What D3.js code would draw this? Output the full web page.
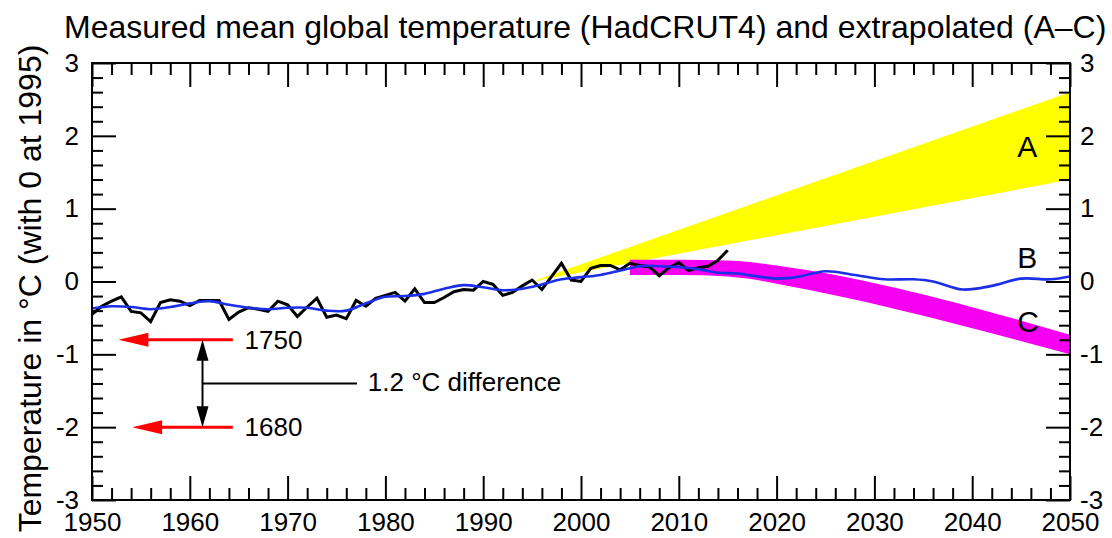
<!DOCTYPE html>
<html>
<head>
<meta charset="utf-8">
<script src="https://cdn.jsdelivr.net/npm/d3@7"></script>
<style>
    body { margin: 0; background: #fff; }
    svg text { font-family: "Liberation Sans", Arial, sans-serif; fill: #000; }
</style>
</head>
<body>
<div id="chart"></div>
<script>
// Measured HadCRUT4 annual values (relative to 1995)
const measuredYears = d3.range(1950, 2016);
const measuredValues = [
    -0.45, -0.34, -0.27, -0.21, -0.41, -0.43, -0.55, -0.29, -0.25, -0.27,
    -0.33, -0.26, -0.26, -0.26, -0.52, -0.42, -0.36, -0.38, -0.41, -0.27,
    -0.32, -0.48, -0.35, -0.23, -0.49, -0.46, -0.51, -0.26, -0.34, -0.23,
    -0.19, -0.15, -0.27, -0.10, -0.29, -0.29, -0.22, -0.14, -0.11, -0.12,
     0.00, -0.04, -0.19, -0.15, -0.06, 0.02, -0.11, 0.07, 0.25, 0.02,
     0.00, 0.18, 0.22, 0.22, 0.16, 0.25, 0.22, 0.20, 0.08, 0.19,
     0.26, 0.15, 0.19, 0.21, 0.29, 0.43
];

// Smoothed / extrapolated curve (B)
const smoothYears = [1950, 1952, 1954, 1956, 1958, 1960, 1962, 1964, 1966, 1968,
    1970, 1972, 1974, 1976, 1978, 1980, 1982, 1984, 1986, 1988,
    1990, 1992, 1994, 1996, 1998, 2000, 2002, 2004, 2006, 2008,
    2010, 2012, 2014, 2016, 2018, 2020, 2022, 2025, 2028, 2031,
    2034, 2036, 2039, 2042, 2045, 2048, 2050];
const smoothValues = [-0.37, -0.34, -0.35, -0.38, -0.35, -0.30, -0.27, -0.32, -0.36, -0.38,
    -0.36, -0.36, -0.40, -0.40, -0.30, -0.21, -0.20, -0.17, -0.10, -0.05,
    -0.08, -0.12, -0.10, -0.04, 0.03, 0.06, 0.09, 0.15, 0.21, 0.21,
    0.20, 0.17, 0.12, 0.11, 0.07, 0.04, 0.06, 0.14, 0.09, 0.03,
    0.03, 0.00, -0.11, -0.06, 0.04, 0.03, 0.07];

// Band A (yellow)
const bandAYears = [1995, 2050];
const bandALow = [0, 1.4];
const bandAHigh = [0, 2.6];

// Band C (magenta)
const bandCYears = [2005, 2010, 2015, 2017, 2020, 2050];
const bandCLow = [0.09, 0.09, 0.07, 0.04, -0.03, -1.0];
const bandCHigh = [0.30, 0.30, 0.29, 0.27, 0.22, -0.73];

// Scenario labels and their levels
const scenNames = ["A", "B", "C"];
const scenLevels = [1.71, 0.19, -0.7];

// Reference levels
const refLabels = ["1750", "1680"];
const refValues = [-0.8, -2.0];

const yearTicks = d3.range(1950, 2051, 10);
const tempTicks = [-3, -2, -1, 0, 1, 2, 3];

const W = 1112, H = 538;
const plot = { left: 92, right: 1070, top: 63, bottom: 500 };

const svg = d3.select("#chart").append("svg")
    .attr("width", W)
    .attr("height", H);

const x = d3.scaleLinear().domain([1950, 2050]).range([plot.left, plot.right]);
const y = d3.scaleLinear().domain([-3, 3]).range([plot.bottom, plot.top]);

// clip for data
svg.append("clipPath").attr("id", "clip")
    .append("rect")
    .attr("x", plot.left).attr("y", plot.top)
    .attr("width", plot.right - plot.left).attr("height", plot.bottom - plot.top);

const data = svg.append("g").attr("clip-path", "url(#clip)");

// Band A
const bandA = bandAYears.map((yr, i) => ({ year: yr, lo: bandALow[i], hi: bandAHigh[i] }));
data.append("path")
    .datum(bandA)
    .attr("fill", "#ffff00")
    .attr("d", d3.area().x(d => x(d.year)).y0(d => y(d.lo)).y1(d => y(d.hi)));

// Band C
const bandC = bandCYears.map((yr, i) => ({ year: yr, lo: bandCLow[i], hi: bandCHigh[i] }));
data.append("path")
    .datum(bandC)
    .attr("fill", "#f500f0")
    .attr("d", d3.area().curve(d3.curveMonotoneX).x(d => x(d.year)).y0(d => y(d.lo)).y1(d => y(d.hi)));

// Measured line
const measured = measuredYears.map((yr, i) => ({ year: yr, v: measuredValues[i] }));
data.append("path")
    .datum(measured)
    .attr("fill", "none")
    .attr("stroke", "#000")
    .attr("stroke-width", 3)
    .attr("stroke-linejoin", "miter")
    .attr("d", d3.line().x(d => x(d.year)).y(d => y(d.v)));

// Smoothed line
const smooth = smoothYears.map((yr, i) => ({ year: yr, v: smoothValues[i] }));
data.append("path")
    .datum(smooth)
    .attr("fill", "none")
    .attr("stroke", "#1a2fe6")
    .attr("stroke-width", 2.6)
    .attr("d", d3.line().curve(d3.curveCatmullRom).x(d => x(d.year)).y(d => y(d.v)));

// Axes: major + minor ticks on all four sides, pointing inward
function styleAxis(g) {
    g.select(".domain").remove();
    g.selectAll("line").attr("stroke", "#000").attr("stroke-width", 2);
    g.selectAll("text").attr("font-size", 26).attr("fill", "#000");
}
const minorYears = d3.range(1952, 2050, 2).filter(d => d % 10 !== 0);
const minorTemps = d3.range(-28, 29, 2).filter(d => d % 10 !== 0).map(d => d / 10);

svg.append("g").attr("transform", `translate(0,${plot.bottom})`)
    .call(d3.axisBottom(x).tickValues(yearTicks).tickFormat(d3.format("d")).tickSize(-24).tickPadding(13))
    .call(styleAxis);
svg.append("g").attr("transform", `translate(0,${plot.bottom})`)
    .call(d3.axisBottom(x).tickValues(minorYears).tickFormat("").tickSize(-12))
    .call(styleAxis);
svg.append("g").attr("transform", `translate(0,${plot.top})`)
    .call(d3.axisTop(x).tickValues(yearTicks).tickFormat("").tickSize(-24))
    .call(styleAxis);
svg.append("g").attr("transform", `translate(0,${plot.top})`)
    .call(d3.axisTop(x).tickValues(minorYears).tickFormat("").tickSize(-12))
    .call(styleAxis);

svg.append("g").attr("transform", `translate(${plot.left},0)`)
    .call(d3.axisLeft(y).tickValues(tempTicks).tickFormat(d3.format("d")).tickSize(-24).tickPadding(13))
    .call(styleAxis);
svg.append("g").attr("transform", `translate(${plot.left},0)`)
    .call(d3.axisLeft(y).tickValues(minorTemps).tickFormat("").tickSize(-11))
    .call(styleAxis);
svg.append("g").attr("transform", `translate(${plot.right},0)`)
    .call(d3.axisRight(y).tickValues(tempTicks).tickFormat(d3.format("d")).tickSize(-24).tickPadding(10))
    .call(styleAxis);
svg.append("g").attr("transform", `translate(${plot.right},0)`)
    .call(d3.axisRight(y).tickValues(minorTemps).tickFormat("").tickSize(-11))
    .call(styleAxis);

// the original uses a plain hyphen for negatives
svg.selectAll("text").each(function () {
    const t = d3.select(this);
    t.text(t.text().replace("\u2212", "-"));
});

// frame
svg.append("rect")
    .attr("x", plot.left).attr("y", plot.top)
    .attr("width", plot.right - plot.left).attr("height", plot.bottom - plot.top)
    .attr("fill", "none").attr("stroke", "#000").attr("stroke-width", 2);

// Title
svg.append("text")
    .attr("x", 64).attr("y", 38)
    .attr("font-size", 32)
    .text("Measured mean global temperature (HadCRUT4) and extrapolated (A\u2013C)");

// Y axis label
svg.append("text")
    .attr("transform", `translate(41,${(40 + 537) / 2}) rotate(-90)`)
    .attr("text-anchor", "middle")
    .attr("font-size", 32)
    .text("Temperature in \u00B0C (with 0 at 1995)");

// Scenario labels
svg.selectAll(".scen")
    .data(scenNames)
    .enter().append("text")
    .attr("class", "scen")
    .attr("x", x(2044.6))
    .attr("y", (d, i) => y(scenLevels[i]))
    .attr("font-size", 30)
    .text(d => d);

// Reference arrows (red) for 1750 and 1680
const ann = svg.append("g");
const tipYears = [1952.7, 1954.1];
refValues.forEach((v, i) => {
    const yy = y(v);
    const tip = x(tipYears[i]);
    ann.append("line")
        .attr("x1", tip + 20).attr("x2", x(1964.4))
        .attr("y1", yy).attr("y2", yy)
        .attr("stroke", "#ff0000").attr("stroke-width", 3);
    ann.append("path")
        .attr("d", `M${tip},${yy} L${tip + 30},${yy - 7} L${tip + 30},${yy + 7} Z`)
        .attr("fill", "#ff0000");
    ann.append("text")
        .attr("x", x(1965.6)).attr("y", yy + 9)
        .attr("font-size", 26)
        .text(refLabels[i]);
});

// Black double arrow and difference label
const ax = x(1961.3);
const yTop = y(refValues[0]), yBot = y(refValues[1]);
ann.append("line")
    .attr("x1", ax).attr("x2", ax)
    .attr("y1", yTop + 18).attr("y2", yBot - 18)
    .attr("stroke", "#000").attr("stroke-width", 2);
ann.append("path")
    .attr("d", `M${ax},${yTop} L${ax - 6},${yTop + 21} L${ax + 6},${yTop + 21} Z`)
    .attr("fill", "#000");
ann.append("path")
    .attr("d", `M${ax},${yBot} L${ax - 6},${yBot - 21} L${ax + 6},${yBot - 21} Z`)
    .attr("fill", "#000");
const midY = y((refValues[0] + refValues[1]) / 2);
ann.append("line")
    .attr("x1", ax).attr("x2", x(1977.1))
    .attr("y1", midY).attr("y2", midY)
    .attr("stroke", "#000").attr("stroke-width", 2);
ann.append("text")
    .attr("x", x(1978.2)).attr("y", midY + 8)
    .attr("font-size", 26)
    .text("1.2 \u00B0C difference");
</script>
</body>
</html>
